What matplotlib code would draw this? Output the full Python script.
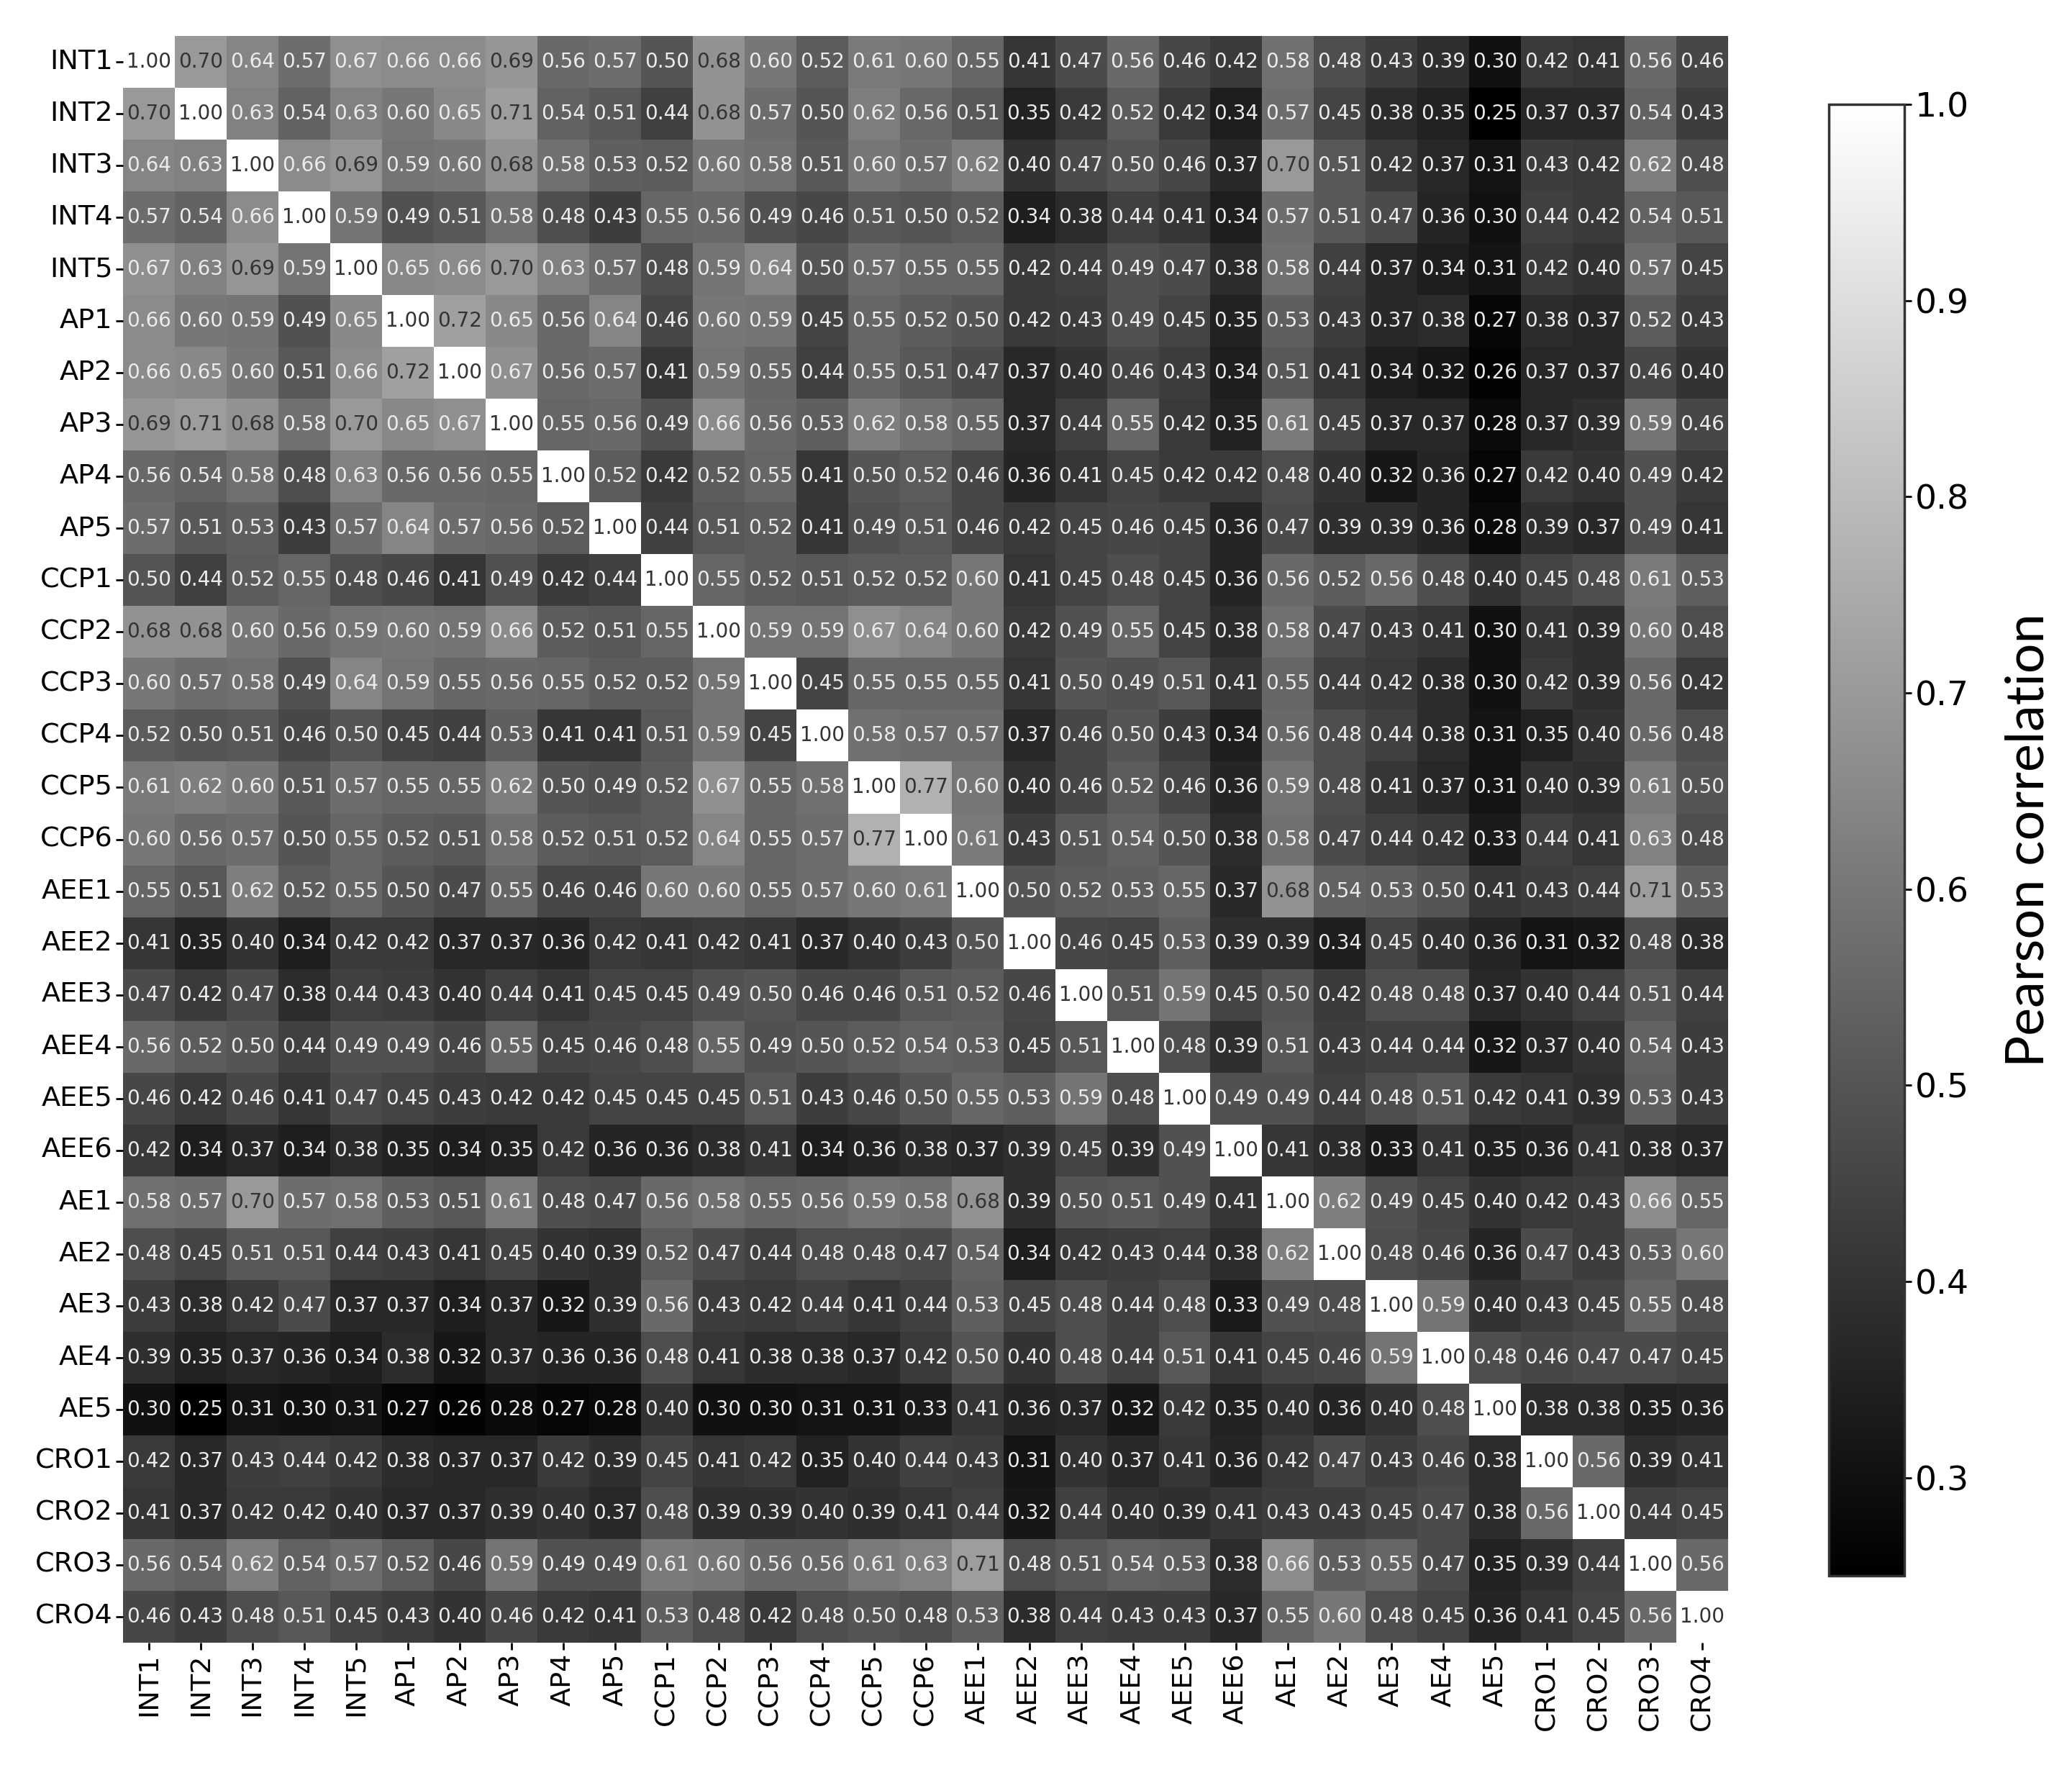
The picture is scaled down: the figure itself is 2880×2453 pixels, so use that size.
import matplotlib
matplotlib.use("Agg")
import matplotlib.pyplot as plt
import numpy as np
import seaborn as sns

labels = ["INT1", "INT2", "INT3", "INT4", "INT5",
          "AP1", "AP2", "AP3", "AP4", "AP5",
          "CCP1", "CCP2", "CCP3", "CCP4", "CCP5", "CCP6",
          "AEE1", "AEE2", "AEE3", "AEE4", "AEE5", "AEE6",
          "AE1", "AE2", "AE3", "AE4", "AE5",
          "CRO1", "CRO2", "CRO3", "CRO4"]

# correlation matrix, one row per item
rows = [
    [1.00, 0.70, 0.64, 0.57, 0.67, 0.66, 0.66, 0.69, 0.56, 0.57, 0.50, 0.68, 0.60, 0.52, 0.61, 0.60, 0.55, 0.41, 0.47, 0.56, 0.46, 0.42, 0.58, 0.48, 0.43, 0.39, 0.30, 0.42, 0.41, 0.56, 0.46],
    [0.70, 1.00, 0.63, 0.54, 0.63, 0.60, 0.65, 0.71, 0.54, 0.51, 0.44, 0.68, 0.57, 0.50, 0.62, 0.56, 0.51, 0.35, 0.42, 0.52, 0.42, 0.34, 0.57, 0.45, 0.38, 0.35, 0.25, 0.37, 0.37, 0.54, 0.43],
    [0.64, 0.63, 1.00, 0.66, 0.69, 0.59, 0.60, 0.68, 0.58, 0.53, 0.52, 0.60, 0.58, 0.51, 0.60, 0.57, 0.62, 0.40, 0.47, 0.50, 0.46, 0.37, 0.70, 0.51, 0.42, 0.37, 0.31, 0.43, 0.42, 0.62, 0.48],
    [0.57, 0.54, 0.66, 1.00, 0.59, 0.49, 0.51, 0.58, 0.48, 0.43, 0.55, 0.56, 0.49, 0.46, 0.51, 0.50, 0.52, 0.34, 0.38, 0.44, 0.41, 0.34, 0.57, 0.51, 0.47, 0.36, 0.30, 0.44, 0.42, 0.54, 0.51],
    [0.67, 0.63, 0.69, 0.59, 1.00, 0.65, 0.66, 0.70, 0.63, 0.57, 0.48, 0.59, 0.64, 0.50, 0.57, 0.55, 0.55, 0.42, 0.44, 0.49, 0.47, 0.38, 0.58, 0.44, 0.37, 0.34, 0.31, 0.42, 0.40, 0.57, 0.45],
    [0.66, 0.60, 0.59, 0.49, 0.65, 1.00, 0.72, 0.65, 0.56, 0.64, 0.46, 0.60, 0.59, 0.45, 0.55, 0.52, 0.50, 0.42, 0.43, 0.49, 0.45, 0.35, 0.53, 0.43, 0.37, 0.38, 0.27, 0.38, 0.37, 0.52, 0.43],
    [0.66, 0.65, 0.60, 0.51, 0.66, 0.72, 1.00, 0.67, 0.56, 0.57, 0.41, 0.59, 0.55, 0.44, 0.55, 0.51, 0.47, 0.37, 0.40, 0.46, 0.43, 0.34, 0.51, 0.41, 0.34, 0.32, 0.26, 0.37, 0.37, 0.46, 0.40],
    [0.69, 0.71, 0.68, 0.58, 0.70, 0.65, 0.67, 1.00, 0.55, 0.56, 0.49, 0.66, 0.56, 0.53, 0.62, 0.58, 0.55, 0.37, 0.44, 0.55, 0.42, 0.35, 0.61, 0.45, 0.37, 0.37, 0.28, 0.37, 0.39, 0.59, 0.46],
    [0.56, 0.54, 0.58, 0.48, 0.63, 0.56, 0.56, 0.55, 1.00, 0.52, 0.42, 0.52, 0.55, 0.41, 0.50, 0.52, 0.46, 0.36, 0.41, 0.45, 0.42, 0.42, 0.48, 0.40, 0.32, 0.36, 0.27, 0.42, 0.40, 0.49, 0.42],
    [0.57, 0.51, 0.53, 0.43, 0.57, 0.64, 0.57, 0.56, 0.52, 1.00, 0.44, 0.51, 0.52, 0.41, 0.49, 0.51, 0.46, 0.42, 0.45, 0.46, 0.45, 0.36, 0.47, 0.39, 0.39, 0.36, 0.28, 0.39, 0.37, 0.49, 0.41],
    [0.50, 0.44, 0.52, 0.55, 0.48, 0.46, 0.41, 0.49, 0.42, 0.44, 1.00, 0.55, 0.52, 0.51, 0.52, 0.52, 0.60, 0.41, 0.45, 0.48, 0.45, 0.36, 0.56, 0.52, 0.56, 0.48, 0.40, 0.45, 0.48, 0.61, 0.53],
    [0.68, 0.68, 0.60, 0.56, 0.59, 0.60, 0.59, 0.66, 0.52, 0.51, 0.55, 1.00, 0.59, 0.59, 0.67, 0.64, 0.60, 0.42, 0.49, 0.55, 0.45, 0.38, 0.58, 0.47, 0.43, 0.41, 0.30, 0.41, 0.39, 0.60, 0.48],
    [0.60, 0.57, 0.58, 0.49, 0.64, 0.59, 0.55, 0.56, 0.55, 0.52, 0.52, 0.59, 1.00, 0.45, 0.55, 0.55, 0.55, 0.41, 0.50, 0.49, 0.51, 0.41, 0.55, 0.44, 0.42, 0.38, 0.30, 0.42, 0.39, 0.56, 0.42],
    [0.52, 0.50, 0.51, 0.46, 0.50, 0.45, 0.44, 0.53, 0.41, 0.41, 0.51, 0.59, 0.45, 1.00, 0.58, 0.57, 0.57, 0.37, 0.46, 0.50, 0.43, 0.34, 0.56, 0.48, 0.44, 0.38, 0.31, 0.35, 0.40, 0.56, 0.48],
    [0.61, 0.62, 0.60, 0.51, 0.57, 0.55, 0.55, 0.62, 0.50, 0.49, 0.52, 0.67, 0.55, 0.58, 1.00, 0.77, 0.60, 0.40, 0.46, 0.52, 0.46, 0.36, 0.59, 0.48, 0.41, 0.37, 0.31, 0.40, 0.39, 0.61, 0.50],
    [0.60, 0.56, 0.57, 0.50, 0.55, 0.52, 0.51, 0.58, 0.52, 0.51, 0.52, 0.64, 0.55, 0.57, 0.77, 1.00, 0.61, 0.43, 0.51, 0.54, 0.50, 0.38, 0.58, 0.47, 0.44, 0.42, 0.33, 0.44, 0.41, 0.63, 0.48],
    [0.55, 0.51, 0.62, 0.52, 0.55, 0.50, 0.47, 0.55, 0.46, 0.46, 0.60, 0.60, 0.55, 0.57, 0.60, 0.61, 1.00, 0.50, 0.52, 0.53, 0.55, 0.37, 0.68, 0.54, 0.53, 0.50, 0.41, 0.43, 0.44, 0.71, 0.53],
    [0.41, 0.35, 0.40, 0.34, 0.42, 0.42, 0.37, 0.37, 0.36, 0.42, 0.41, 0.42, 0.41, 0.37, 0.40, 0.43, 0.50, 1.00, 0.46, 0.45, 0.53, 0.39, 0.39, 0.34, 0.45, 0.40, 0.36, 0.31, 0.32, 0.48, 0.38],
    [0.47, 0.42, 0.47, 0.38, 0.44, 0.43, 0.40, 0.44, 0.41, 0.45, 0.45, 0.49, 0.50, 0.46, 0.46, 0.51, 0.52, 0.46, 1.00, 0.51, 0.59, 0.45, 0.50, 0.42, 0.48, 0.48, 0.37, 0.40, 0.44, 0.51, 0.44],
    [0.56, 0.52, 0.50, 0.44, 0.49, 0.49, 0.46, 0.55, 0.45, 0.46, 0.48, 0.55, 0.49, 0.50, 0.52, 0.54, 0.53, 0.45, 0.51, 1.00, 0.48, 0.39, 0.51, 0.43, 0.44, 0.44, 0.32, 0.37, 0.40, 0.54, 0.43],
    [0.46, 0.42, 0.46, 0.41, 0.47, 0.45, 0.43, 0.42, 0.42, 0.45, 0.45, 0.45, 0.51, 0.43, 0.46, 0.50, 0.55, 0.53, 0.59, 0.48, 1.00, 0.49, 0.49, 0.44, 0.48, 0.51, 0.42, 0.41, 0.39, 0.53, 0.43],
    [0.42, 0.34, 0.37, 0.34, 0.38, 0.35, 0.34, 0.35, 0.42, 0.36, 0.36, 0.38, 0.41, 0.34, 0.36, 0.38, 0.37, 0.39, 0.45, 0.39, 0.49, 1.00, 0.41, 0.38, 0.33, 0.41, 0.35, 0.36, 0.41, 0.38, 0.37],
    [0.58, 0.57, 0.70, 0.57, 0.58, 0.53, 0.51, 0.61, 0.48, 0.47, 0.56, 0.58, 0.55, 0.56, 0.59, 0.58, 0.68, 0.39, 0.50, 0.51, 0.49, 0.41, 1.00, 0.62, 0.49, 0.45, 0.40, 0.42, 0.43, 0.66, 0.55],
    [0.48, 0.45, 0.51, 0.51, 0.44, 0.43, 0.41, 0.45, 0.40, 0.39, 0.52, 0.47, 0.44, 0.48, 0.48, 0.47, 0.54, 0.34, 0.42, 0.43, 0.44, 0.38, 0.62, 1.00, 0.48, 0.46, 0.36, 0.47, 0.43, 0.53, 0.60],
    [0.43, 0.38, 0.42, 0.47, 0.37, 0.37, 0.34, 0.37, 0.32, 0.39, 0.56, 0.43, 0.42, 0.44, 0.41, 0.44, 0.53, 0.45, 0.48, 0.44, 0.48, 0.33, 0.49, 0.48, 1.00, 0.59, 0.40, 0.43, 0.45, 0.55, 0.48],
    [0.39, 0.35, 0.37, 0.36, 0.34, 0.38, 0.32, 0.37, 0.36, 0.36, 0.48, 0.41, 0.38, 0.38, 0.37, 0.42, 0.50, 0.40, 0.48, 0.44, 0.51, 0.41, 0.45, 0.46, 0.59, 1.00, 0.48, 0.46, 0.47, 0.47, 0.45],
    [0.30, 0.25, 0.31, 0.30, 0.31, 0.27, 0.26, 0.28, 0.27, 0.28, 0.40, 0.30, 0.30, 0.31, 0.31, 0.33, 0.41, 0.36, 0.37, 0.32, 0.42, 0.35, 0.40, 0.36, 0.40, 0.48, 1.00, 0.38, 0.38, 0.35, 0.36],
    [0.42, 0.37, 0.43, 0.44, 0.42, 0.38, 0.37, 0.37, 0.42, 0.39, 0.45, 0.41, 0.42, 0.35, 0.40, 0.44, 0.43, 0.31, 0.40, 0.37, 0.41, 0.36, 0.42, 0.47, 0.43, 0.46, 0.38, 1.00, 0.56, 0.39, 0.41],
    [0.41, 0.37, 0.42, 0.42, 0.40, 0.37, 0.37, 0.39, 0.40, 0.37, 0.48, 0.39, 0.39, 0.40, 0.39, 0.41, 0.44, 0.32, 0.44, 0.40, 0.39, 0.41, 0.43, 0.43, 0.45, 0.47, 0.38, 0.56, 1.00, 0.44, 0.45],
    [0.56, 0.54, 0.62, 0.54, 0.57, 0.52, 0.46, 0.59, 0.49, 0.49, 0.61, 0.60, 0.56, 0.56, 0.61, 0.63, 0.71, 0.48, 0.51, 0.54, 0.53, 0.38, 0.66, 0.53, 0.55, 0.47, 0.35, 0.39, 0.44, 1.00, 0.56],
    [0.46, 0.43, 0.48, 0.51, 0.45, 0.43, 0.40, 0.46, 0.42, 0.41, 0.53, 0.48, 0.42, 0.48, 0.50, 0.48, 0.53, 0.38, 0.44, 0.43, 0.43, 0.37, 0.55, 0.60, 0.48, 0.45, 0.36, 0.41, 0.45, 0.56, 1.00],
]

corr = np.array(rows)

fig = plt.figure(figsize=(28.8, 24.53), dpi=100)
ax = fig.add_axes([0.0594, 0.0693, 0.7747, 0.9103])
cax = fig.add_axes([0.8826, 0.1072, 0.0365, 0.8337])

sns.heatmap(corr, ax=ax, cbar_ax=cax, cmap="gray", vmin=0.25, vmax=1.0,
            annot=True, fmt=".2f", annot_kws={"size": 20},
            xticklabels=labels, yticklabels=labels)

# light cells get dark numbers, the rest light ones
for txt, val in zip(ax.texts, corr.flatten()):
    txt.set_color("#333333" if val >= 0.675 else "#ebebeb")

ax.tick_params(axis="both", labelsize=27.5, length=7, width=2)
ax.set_xticklabels(labels, rotation=90)
ax.set_yticklabels(labels, rotation=0)

cb = ax.collections[0].colorbar
cb.outline.set_visible(True)
cb.outline.set_linewidth(2.5)
cb.outline.set_edgecolor("#333333")
cb.set_ticks([0.3, 0.4, 0.5, 0.6, 0.7, 0.8, 0.9, 1.0])
cax.tick_params(labelsize=34, length=7, width=2)
cax.set_ylabel("Pearson correlation", fontsize=53, family=["Lato", "DejaVu Sans"], labelpad=36)

fig.savefig("out.png", dpi=100)
